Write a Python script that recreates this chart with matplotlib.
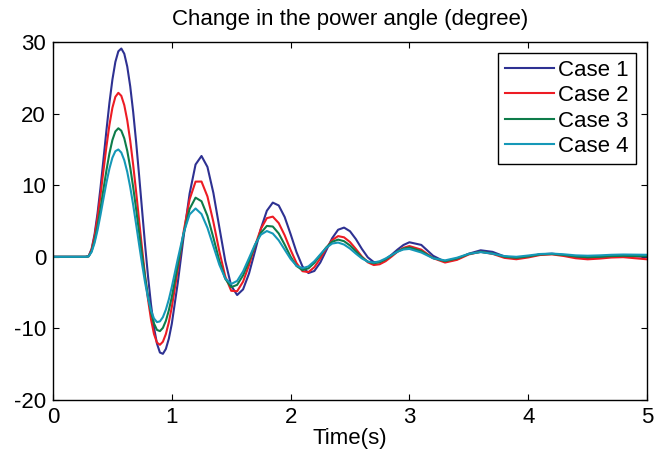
#!/usr/bin/env python3
"""Power angle deviation for four cases (MATLAB-style line plot)."""

import matplotlib

matplotlib.use("Agg")
import matplotlib.pyplot as plt
import numpy as np

plt.rcParams["font.family"] = ["Liberation Sans", "DejaVu Sans"]
plt.rcParams["axes.unicode_minus"] = False

# sample times (s): fine steps over the first swing, coarser later
TIME = np.round(np.r_[[0.0, 0.25], np.arange(0.275, 0.99, 0.025),
                      np.arange(1.0, 2.99, 0.05), np.arange(3.0, 5.01, 0.1)], 3)

CASE1 = [0.0, 0.0, 0.0, 0.09, 1.10, 3.15, 6.09, 9.68, 13.65, 17.70, 21.50, 24.74, 27.22, 28.70,
         29.09, 28.36, 26.57, 23.81, 20.22, 15.99, 11.33, 6.49, 1.67, -2.76, -6.66, -9.86, -12.12,
         -13.37, -13.55, -12.87, -11.44,
         -9.36, -3.67, 2.88, 8.84, 12.89, 14.08, 12.55, 8.92, 4.13, -0.59,
         -4.05, -5.34, -4.55, -2.33, 0.77, 3.95, 6.43, 7.57, 7.17, 5.56,
         3.17, 0.64, -1.35, -2.27, -1.98, -0.80, 0.90, 2.60, 3.78, 4.08,
         3.57, 2.46, 1.10, -0.08, -0.74, -0.73, -0.35, 0.29, 1.01, 1.65,
         2.03, 1.66, 0.14, -0.70, -0.34, 0.43, 0.91, 0.69, 0.05, -0.19, 0.03,
         0.34, 0.44, 0.24, -0.07, -0.20, -0.10, 0.05, 0.10, 0.05, 0.0]
CASE2 = [0.0, 0.0, 0.0, 0.08, 1.00, 2.86, 5.49, 8.65, 12.07, 15.42, 18.42, 20.81, 22.34, 22.90,
         22.48, 21.18, 19.06, 16.22, 12.82, 9.04, 5.06, 1.10, -2.66, -5.97, -8.75, -10.78, -11.98,
         -12.29, -11.86, -10.79, -9.15,
         -7.03, -1.86, 3.57, 8.02, 10.50, 10.51, 8.43, 4.87, 0.78, -2.74,
         -4.75, -4.81, -3.47, -1.16, 1.53, 3.91, 5.40, 5.61, 4.71, 3.01,
         0.96, -0.88, -2.01, -2.14, -1.45, -0.22, 1.19, 2.34, 2.89, 2.72,
         2.06, 1.08, 0.04, -0.77, -1.15, -1.04, -0.61, 0.03, 0.71, 1.25,
         1.50, 1.00, -0.19, -0.80, -0.43, 0.33, 0.70, 0.41, -0.15, -0.34, -0.09,
         0.25, 0.34, 0.11, -0.20, -0.35, -0.25, -0.10, -0.05, -0.20, -0.35]
CASE3 = [0.0, 0.0, 0.0, 0.06, 0.78, 2.24, 4.30, 6.78, 9.46, 12.09, 14.44, 16.31, 17.51, 17.95,
         17.61, 16.54, 14.80, 12.48, 9.71, 6.62, 3.38, 0.16, -2.86, -5.52, -7.73, -9.31, -10.21,
         -10.38, -9.93, -8.95, -7.48,
         -5.62, -1.19, 3.27, 6.69, 8.26, 7.76, 5.71, 2.67, -0.54, -3.07,
         -4.24, -3.92, -2.59, -0.59, 1.57, 3.35, 4.31, 4.23, 3.26, 1.70,
         0.02, -1.29, -1.85, -1.61, -0.85, 0.22, 1.31, 2.10, 2.40, 2.18,
         1.58, 0.75, -0.08, -0.68, -0.90, -0.75, -0.35, 0.20, 0.75, 1.15,
         1.30, 0.79, -0.18, -0.60, -0.24, 0.39, 0.70, 0.46, 0.01, -0.14, 0.05,
         0.33, 0.39, 0.25, 0.05, -0.05, 0.00, 0.10, 0.15, 0.12, 0.10]
CASE4 = [0.0, 0.0, 0.0, 0.06, 0.68, 1.94, 3.72, 5.86, 8.14, 10.37, 12.32, 13.84, 14.75, 14.99,
         14.56, 13.49, 11.86, 9.73, 7.24, 4.50, 1.69, -1.05, -3.59, -5.77, -7.47, -8.61, -9.12,
         -9.02, -8.43, -7.38, -5.95,
         -4.22, -0.33, 3.36, 5.92, 6.75, 5.97, 4.05, 1.48, -1.10, -3.02,
         -3.80, -3.37, -2.04, -0.18, 1.71, 3.09, 3.60, 3.25, 2.30, 1.00,
         -0.30, -1.25, -1.60, -1.34, -0.62, 0.33, 1.25, 1.85, 1.99, 1.71,
         1.15, 0.43, -0.23, -0.68, -0.80, -0.62, -0.23, 0.25, 0.71, 1.02,
         1.10, 0.60, -0.21, -0.50, -0.13, 0.42, 0.65, 0.43, 0.10, 0.00, 0.18,
         0.39, 0.45, 0.35, 0.20, 0.15, 0.20, 0.28, 0.32, 0.30, 0.28]

LABELS = ["Case 1", "Case 2", "Case 3", "Case 4"]
COLORS = ["#2e3192", "#ed1c24", "#0e7c4a", "#1598b8"]
X_TICKS = [0, 1, 2, 3, 4, 5]
Y_TICKS = [-20, -10, 0, 10, 20, 30]


def main():
    fs = 16
    fig = plt.figure(figsize=(6.63, 4.53), dpi=100)
    ax = fig.add_axes([53 / 663, 1 - 400 / 453, 594 / 663, 358 / 453])

    for vals, label, color in zip([CASE1, CASE2, CASE3, CASE4], LABELS, COLORS):
        ax.plot(TIME, vals, color=color, linewidth=1.5, label=label)

    ax.set_xlim(0, 5)
    ax.set_ylim(-20, 30)
    ax.set_xticks(X_TICKS)
    ax.set_yticks(Y_TICKS)
    ax.tick_params(direction="in", length=4, width=0.8, top=True, right=True,
                   labelsize=fs, pad=5)
    for spine in ax.spines.values():
        spine.set_linewidth(1.0)
        spine.set_color("black")

    ax.set_xlabel("Time(s)", fontsize=fs, labelpad=0)
    fig.text(0.5 * (53 + 647) / 663, 1 - 19 / 453, "Change in the power angle (degree)",
             ha="center", va="center", fontsize=fs)

    leg = ax.legend(loc="upper right", bbox_to_anchor=(0.981, 0.969), fontsize=fs,
                    frameon=True, fancybox=False, framealpha=1, edgecolor="black",
                    handlelength=2.2, handletextpad=0.2, labelspacing=0.2,
                    borderpad=0.3, borderaxespad=0)
    leg.get_frame().set_linewidth(1.0)

    fig.savefig("out.png", dpi=100)


if __name__ == "__main__":
    main()
